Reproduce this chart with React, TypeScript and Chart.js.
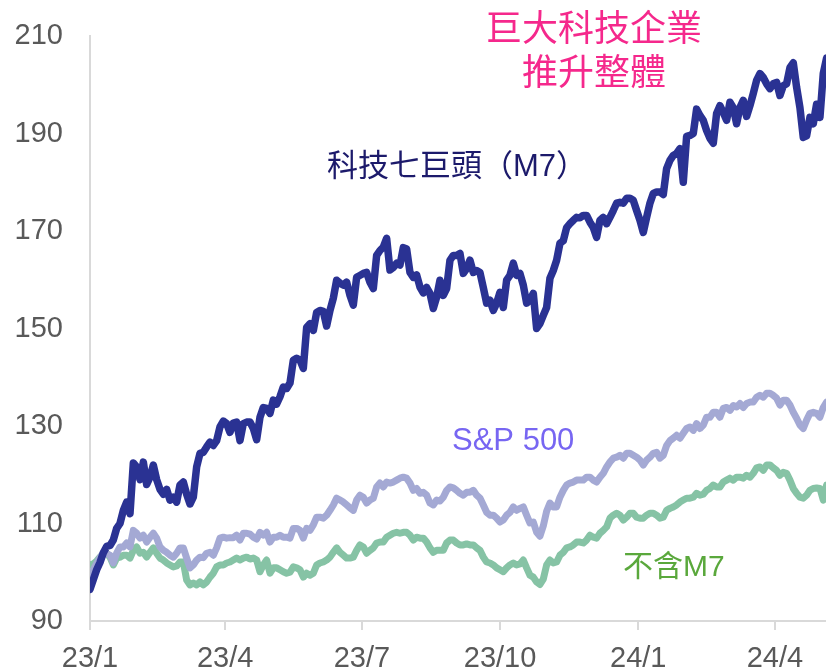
import { useEffect, useRef } from "react";
import { Chart, registerables } from "chart.js";

Chart.register(...registerables);

// Observation grid: one sample every DAY_STEP days from 2023-01-01
const DAY_STEP = 2.219;
const X_MAX_DAY = 490;

const TICK_DAYS = [0, 90, 181, 273, 365, 456];
const TICK_LABELS = ["23/1", "23/4", "23/7", "23/10", "24/1", "24/4"];

const Y_MIN = 90;
const Y_MAX = 210;
const Y_STEP = 20;

// 科技七巨頭 (M7)
const M7 = [
  96.5, 98.5, 100.5, 102, 104, 105.3, 105.5, 106.6, 109, 110,
  112.7, 114.4, 112, 122.4, 121.6, 119, 122.6, 118, 119.5, 122,
  119, 117, 116, 117, 114.8, 115.4, 114.4, 117.9, 118.5, 116,
  114, 115.4, 121.6, 124.4, 124.6, 125.7, 126.7, 126, 127, 129.8,
  131, 130.5, 128.7, 130.6, 130.8, 127, 130.5, 130.8, 130.8, 129.5,
  127.2, 131.8, 133.8, 133.6, 132.6, 135.3, 134.5, 136, 138, 137.7,
  138.8, 143.5, 143.9, 143.5, 141.8, 150.2, 151, 149.6, 153.3, 153.7,
  153.5, 150.5, 153.7, 156.2, 159.9, 159.3, 158.9, 159.5, 156.8, 154.8,
  160.5, 160.9, 161.3, 161.5, 159.5, 158.2, 165, 166, 166.7, 168.5,
  162, 162.5, 163.4, 163, 166.6, 166.3, 161.5, 160.5, 161, 158.5,
  157.3, 158.4, 157.2, 154.1, 156.4, 159.9, 156.8, 158.2, 164, 165,
  165, 165.4, 161.3, 162.3, 164, 161.5, 161.9, 161.5, 158.4, 155.2,
  155.8, 153.7, 155.2, 157.4, 154.3, 159.9, 160.9, 163.4, 160.9, 161.3,
  158.9, 155.2, 155.8, 157.2, 150, 151, 152.7, 154.3, 160.3, 161.9,
  164, 167.5, 168, 170.7, 171.5, 172.2, 172.8, 172.7, 173.2, 173.2,
  171.8, 170.7, 168.7, 172.2, 172.8, 171.5, 172.8, 174.2, 175.7, 175.9,
  175.7, 176.7, 176.7, 176.3, 174.2, 172.2, 169.7, 172.8, 175.7, 177.7,
  178, 178, 177.5, 182.8, 184.5, 185.5, 185.9, 186.9, 180, 189.4,
  189.6, 190, 195, 193.7, 192.7, 190.6, 189, 188, 194.1, 195.7,
  194.3, 192.7, 196.4, 195.3, 192, 195.3, 196.8, 193.5, 195.7, 198.2,
  200.9, 202.3, 201.5, 200.2, 199.2, 200.2, 200.5, 197.8, 199.8, 200.2,
  203.5, 204.5, 199.5, 195.3, 189.2, 189.5, 193.3, 192, 196, 193.3,
  202.3, 205.5,
];

// S&P 500
const SP500 = [
  99.4, 100.5, 101.8, 103, 104, 103.8, 103.5, 101.9, 103.9, 105.2,
  105.2, 106, 105.2, 108.6, 108, 107, 107.6, 106.2, 107.2, 108,
  107, 105.2, 104.5, 104.1, 103.5, 103.1, 103.9, 105, 105, 102.9,
  100.9, 101.5, 102.5, 103.1, 103, 103.9, 104.1, 103.5, 105, 107,
  107.2, 107, 107.1, 107.1, 107.6, 106.6, 108, 108, 107.8, 107.2,
  106.8, 108.2, 107.6, 108.2, 106.2, 107.2, 107.2, 107.6, 107.2, 107.2,
  107, 109, 109, 108.6, 107, 109, 108.6, 109.7, 111.3, 111.3,
  111.1, 111.7, 112.7, 113.8, 115.2, 114.8, 114.4, 113.8, 113.2, 112.7,
  114.8, 115.8, 115.4, 114.2, 114.8, 115.2, 117.5, 118.3, 117.5, 118.5,
  118.3, 118.5, 118.9, 119.3, 119.5, 119.3, 118.3, 116.8, 117.2, 116.2,
  116.4, 115.8, 114.2, 113.8, 114.8, 114.6, 115.4, 116.8, 117.5, 117.3,
  116.8, 116.2, 115.8, 116.4, 116.4, 116.8, 115.8, 115.2, 113.8, 112.3,
  111.7, 111.7, 111.1, 110.3, 110.7, 111.7, 112.3, 113.4, 112.7, 113.1,
  113.4, 111.7, 110.1, 110.3, 108.2, 107.4, 109.5, 112.5, 114.2, 113.4,
  113.4, 115.4, 116.8, 117.9, 118.3, 118.5, 118.9, 118.9, 118.9, 119.5,
  119.5, 118.9, 118.5, 119.5, 120.3, 121.6, 122.6, 123.4, 123.6, 124,
  123.4, 124.4, 124.4, 124, 123.6, 123, 122, 123, 123.6, 124.4,
  124.6, 123.4, 124, 126, 127, 127.5, 128.1, 127.5, 128.5, 129.5,
  129.8, 129.1, 130.5, 129.5, 130.2, 131.8, 131.8, 132.8, 132.8, 131.8,
  133.6, 133.8, 133.2, 134.2, 133.9, 134.6, 133.8, 134.6, 134.9, 134.9,
  135.9, 136.3, 135.9, 136.7, 136.7, 136.3, 135.7, 134.3, 135.3, 135.3,
  134.3, 132.8, 131.6, 130.2, 129.5, 131.2, 132.6, 132.8, 132.6, 131.8,
  133.8, 134.9,
];

// 不含M7
const EX_M7 = [
  101.5, 101.7, 102.3, 103.1, 103.7, 103.9, 103.1, 101.5, 102.9, 103.1,
  103.5, 103.5, 102.9, 104.5, 105.2, 103.9, 104.1, 103.1, 104.1, 105,
  103.9, 102.9, 102.5, 101.9, 101.5, 101.1, 101.3, 102.1, 102.1, 98.4,
  97.4, 97.8, 97.4, 98, 97.4, 98, 99, 99.8, 101.1, 101.5,
  101.5, 101.9, 102.1, 102.5, 102.9, 102.5, 102.9, 103.1, 102.7, 102.9,
  102.5, 100.1, 101.5, 102.5, 99.8, 100.9, 100.9, 100.5, 100.1, 99.8,
  100, 101.1, 100.9, 100.5, 99, 99.8, 99.4, 99.8, 101.5, 101.9,
  102.1, 102.5, 103.1, 104.1, 105, 104.1, 103.5, 102.9, 102.9, 103.1,
  104.5, 105.6, 105.2, 103.9, 104.5, 105, 106, 106.2, 106.2, 107.2,
  107.6, 108, 108.2, 108, 108.2, 108.2, 107.6, 106.6, 107.2, 107,
  107, 106.2, 105, 104.1, 104.5, 104.5, 104.5, 106, 106.6, 106.6,
  106, 105.6, 105.6, 105.8, 105.6, 105.6, 105, 104.5, 103.1, 102.1,
  101.9, 101.5, 100.9, 100.5, 100.1, 100.9, 101.5, 101.9, 101.5, 101.7,
  102.5, 100.9, 99.4, 99, 98, 97.5, 98.6, 101.5, 102.5, 101.9,
  102.1, 103.5, 104.1, 105, 105.2, 105.6, 106.2, 106.2, 106, 106.6,
  107.6, 107.2, 107, 108, 108.6, 109.3, 111.1, 111.7, 112.1, 111.7,
  110.7, 111.3, 112.1, 112.1, 111.3, 111.1, 111.1, 111.7, 112.1, 112.1,
  111.7, 111.1, 111.3, 112.7, 113.1, 113.4, 113.8, 114.4, 114.8, 115.2,
  115.2, 115.4, 116.2, 115.8, 116, 116.8, 117.2, 117.9, 117.5, 117.5,
  118.5, 118.9, 119.3, 118.9, 119.5, 119.5, 119.3, 119.9, 119.5, 120.3,
  121.4, 121.6, 120.9, 122, 122, 121.4, 120.9, 119.9, 120.5, 120.3,
  118.9, 117.2, 116.2, 115.4, 115.2, 115.8, 116.8, 117.2, 117.3, 117.2,
  114.8, 117.9,
];

const FONT = 'Arial, "Liberation Sans", "Noto Sans CJK TC", sans-serif';

// Text annotations, positioned in data units (day, index value)
const NOTE_TEXTS = ["巨大科技企業", "推升整體", "科技七巨頭（M7）", "S&P 500", "不含M7"];
const NOTE_X = [335.6, 335.6, 157.8, 241, 354.9];
const NOTE_Y = [211.1, 201.9, 183.0, 126.9, 100.9];
const NOTE_SIZES = [36, 36, 31, 31, 30];
const NOTE_COLORS = ["#f5288c", "#f5288c", "#1c1a6b", "#7766f2", "#5aa83c"];
const NOTE_ALIGN: CanvasTextAlign[] = ["center", "center", "left", "left", "left"];

const notesPlugin = {
  id: "notes",
  afterDatasetsDraw(chart: any) {
    const { ctx, scales } = chart;
    const xs = scales.x;
    const ys = scales.y;
    ctx.save();
    NOTE_TEXTS.forEach((t, i) => {
      ctx.font = `${NOTE_SIZES[i]}px ${FONT}`;
      ctx.fillStyle = NOTE_COLORS[i];
      ctx.textAlign = NOTE_ALIGN[i];
      ctx.textBaseline = "middle";
      ctx.fillText(t, xs.getPixelForValue(NOTE_X[i]), ys.getPixelForValue(NOTE_Y[i]));
    });
    ctx.restore();
  },
};

const toPoints = (arr: number[]) => arr.map((v, i) => ({ x: i * DAY_STEP, y: v }));

export default function App() {
  const ref = useRef<HTMLCanvasElement | null>(null);

  useEffect(() => {
    if (!ref.current) return;
    const lineCommon = {
      pointRadius: 0,
      pointHoverRadius: 0,
      tension: 0,
      borderJoinStyle: "round" as const,
      borderCapStyle: "round" as const,
      fill: false,
    };
    const chart = new Chart(ref.current, {
      type: "line",
      data: {
        datasets: [
          { ...lineCommon, label: "科技七巨頭（M7）", data: toPoints(M7), borderColor: "#2a3293", borderWidth: 7.5 },
          { ...lineCommon, label: "S&P 500", data: toPoints(SP500), borderColor: "#a4a9d4", borderWidth: 7 },
          { ...lineCommon, label: "不含M7", data: toPoints(EX_M7), borderColor: "#86c3a5", borderWidth: 7 },
        ],
      },
      options: {
        animation: false,
        responsive: false,
        maintainAspectRatio: false,
        layout: { padding: { top: 36, right: 0, bottom: 0, left: 0 } },
        plugins: {
          legend: { display: false },
          tooltip: { enabled: false },
          title: { display: false },
        },
        scales: {
          x: {
            type: "linear",
            min: 0,
            max: X_MAX_DAY,
            afterFit: (s: any) => {
              s.height = 48;
              s.paddingLeft = 0;
              s.paddingRight = 0;
            },
            afterBuildTicks: (s: any) => {
              s.ticks = TICK_DAYS.map((v) => ({ value: v }));
            },
            grid: {
              drawOnChartArea: false,
              drawTicks: true,
              tickLength: 9,
              color: "#d9d9d9",
              lineWidth: 2,
            },
            border: { display: true, color: "#d9d9d9", width: 2 },
            ticks: {
              autoSkip: false,
              maxRotation: 0,
              minRotation: 0,
              padding: 12,
              color: "#595959",
              font: { size: 29, family: FONT },
              callback: (_v: any, i: number) => TICK_LABELS[i],
            },
          },
          y: {
            type: "linear",
            min: Y_MIN,
            max: Y_MAX,
            afterFit: (s: any) => {
              s.width = 90;
              s.paddingTop = 0;
              s.paddingBottom = 0;
            },
            grid: { drawOnChartArea: false, drawTicks: false, color: "#d9d9d9" },
            border: { display: true, color: "#d9d9d9", width: 2 },
            ticks: {
              stepSize: Y_STEP,
              padding: 27,
              color: "#595959",
              font: { size: 29, family: FONT },
            },
          },
        },
      },
      plugins: [notesPlugin],
    });
    return () => chart.destroy();
  }, []);

  return (
    <div style={{ position: "absolute", left: 0, top: 0, width: 826, height: 669, background: "#fff" }}>
      <canvas ref={ref} width={826} height={669} style={{ display: "block" }} />
    </div>
  );
}
